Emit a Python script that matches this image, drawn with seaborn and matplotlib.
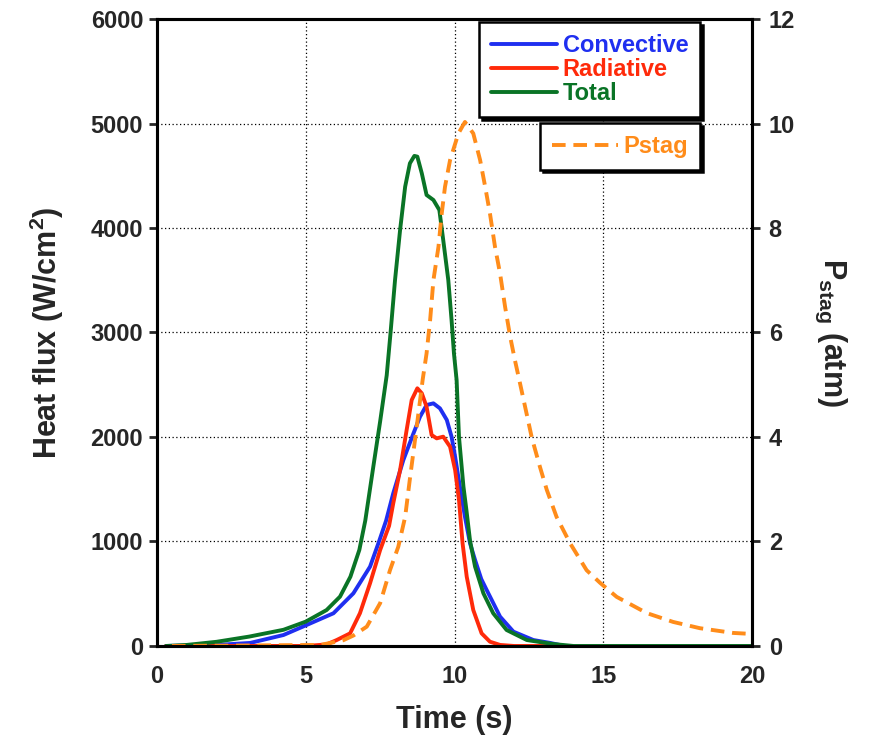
import numpy as np
import pandas as pd
import matplotlib
matplotlib.use("Agg")
import matplotlib.pyplot as plt
import seaborn as sns
from matplotlib.lines import Line2D

# =========================
# DATA
# =========================
t_conv = [0.3, 2.0, 3.13, 4.25, 5.03, 5.93, 6.6, 7.16, 7.45, 7.7, 7.94, 8.28, 8.62, 8.84,
          9.06, 9.29, 9.51, 9.74, 9.9, 10.02, 10.18, 10.35, 10.52, 10.69, 10.9, 11.08,
          11.25, 11.53, 11.98, 12.65, 13.2, 13.7]
q_conv = [0, 10, 29, 105, 201, 313, 504, 759, 990, 1200, 1461, 1780, 2035, 2194,
          2306, 2322, 2274, 2163, 2003, 1811, 1524, 1237, 983, 823, 640, 536,
          440, 281, 137, 57, 30, 0]

t_rad = [0.3, 5.0, 5.7, 6.04, 6.49, 6.82, 7.16, 7.5, 7.8, 7.94, 8.17, 8.39, 8.56, 8.75,
         8.9, 9.06, 9.23, 9.4, 9.62, 9.85, 10.02, 10.15, 10.27, 10.41, 10.63, 10.91,
         11.19, 11.53, 12.0, 13.5]
q_rad = [0, 0, 15, 57, 121, 313, 600, 919, 1150, 1365, 1684, 2067, 2354, 2466,
         2418, 2290, 2019, 1987, 2003, 1907, 1684, 1397, 983, 663, 344, 121,
         41, 10, 0, 0]

t_tot = [0.3, 1.0, 2.0, 3.1, 4.25, 5.0, 5.7, 6.15, 6.5, 6.8, 7.0, 7.27, 7.5, 7.72, 7.85,
         8.0, 8.17, 8.34, 8.5, 8.65, 8.75, 8.9, 9.06, 9.29, 9.49, 9.62, 9.79, 9.9, 9.98,
         10.07, 10.15, 10.3, 10.4, 10.52, 10.69, 10.97, 11.3, 11.75, 12.43, 13.3, 14.0, 20.0]
q_tot = [0, 10, 40, 90, 155, 233, 344, 472, 663, 919, 1200, 1716, 2150, 2590, 3000,
         3502, 3981, 4395, 4619, 4690, 4683, 4523, 4316, 4268, 4172, 3885, 3502, 3120, 2801,
         2545, 2000, 1524, 1300, 1010, 759, 504, 313, 153, 57, 19, 0, 0]

t_p = [0.5, 5.5, 6.26, 6.6, 7.05, 7.5, 7.83, 8.11, 8.34, 8.5, 8.73, 8.93, 9.06, 9.18,
       9.29, 9.46, 9.57, 9.68, 9.85, 10.13, 10.35, 10.63, 10.86, 11.03, 11.19, 11.36,
       11.53, 11.7, 11.87, 12.03, 12.2, 12.6, 12.87, 13.1, 13.43, 13.88, 14.44, 14.89,
       15.45, 16.46, 17.35, 18.25, 19.36, 20.0]
p_stag = [0, 0.02, 0.11, 0.2, 0.37, 0.82, 1.45, 1.9, 2.47, 3.2, 4.2, 5.1, 5.6, 6.24,
          7.0, 7.64, 8.28, 8.79, 9.3, 9.81, 10.03, 9.81, 9.3, 8.79, 8.28, 7.64,
          7.13, 6.49, 5.92, 5.47, 5.03, 3.98, 3.43, 2.99, 2.47, 1.97, 1.45, 1.21,
          0.94, 0.63, 0.46, 0.34, 0.25, 0.23]

series_names = ["Convective", "Radiative", "Total"]
colors = {"Convective": "#1f2ff0", "Radiative": "#ff2a0a", "Total": "#0a7426"}
p_color = "#ff8c1a"

flux = pd.concat([
    pd.DataFrame({"time": t_conv, "flux": q_conv, "series": "Convective"}),
    pd.DataFrame({"time": t_rad, "flux": q_rad, "series": "Radiative"}),
    pd.DataFrame({"time": t_tot, "flux": q_tot, "series": "Total"}),
])
pres = pd.DataFrame({"time": t_p, "p": p_stag})

# =========================
# STYLE
# =========================
sns.set_style("white")
plt.rcParams["font.family"] = ["Liberation Sans", "DejaVu Sans"]
plt.rcParams["font.weight"] = "bold"
plt.rcParams["axes.labelweight"] = "bold"
plt.rcParams["mathtext.fontset"] = "custom"
plt.rcParams["mathtext.rm"] = "Liberation Sans:bold"
plt.rcParams["mathtext.it"] = "Liberation Sans:bold"
plt.rcParams["mathtext.bf"] = "Liberation Sans:bold"

fig = plt.figure(figsize=(8.71, 7.37), dpi=100)
ax = fig.add_axes([0.1803, 0.1235, 0.6831, 0.8507])

sns.lineplot(data=flux, x="time", y="flux", hue="series", hue_order=series_names,
             palette=colors, linewidth=2.8, estimator=None, legend=False, ax=ax)

ax.set_xlim(0, 20)
ax.set_ylim(0, 6000)
ax.set_xticks([0, 5, 10, 15, 20])
ax.set_yticks(range(0, 6001, 1000))
ax.grid(True, color="black", linestyle=(0, (1, 2)), linewidth=0.9)
ax.tick_params(axis="both", direction="out", length=6, width=2, labelsize=17, pad=4)
ax.tick_params(axis="x", pad=8)
ax.set_xlabel("Time (s)", fontsize=22, labelpad=12)
ax.set_ylabel("Heat flux (W/cm$^2$)", fontsize=22, labelpad=18)

ax2 = ax.twinx()
sns.lineplot(data=pres, x="time", y="p", color=p_color, linewidth=2.8,
             estimator=None, ax=ax2)
ax2.lines[0].set_dashes((3.5, 2))
ax2.set_ylim(0, 12)
ax2.set_yticks(range(0, 13, 2))
ax2.tick_params(axis="y", direction="out", length=6, width=2, labelsize=17, pad=6)
ax2.set_ylabel("P$_{\\mathrm{stag}}$ (atm)", fontsize=22, rotation=270,
               va="bottom", labelpad=13)
ax2.grid(False)

for a in (ax, ax2):
    for s in a.spines.values():
        s.set_linewidth(2.2)
        s.set_color("black")

# =========================
# LEGENDS
# =========================
h1 = [Line2D([], [], color=colors[n], linewidth=2.8) for n in series_names]
leg1 = ax2.legend(h1, series_names, loc="upper right", bbox_to_anchor=(0.9126, 0.995),
                  prop={"weight": "bold", "size": 17}, labelcolor="linecolor",
                  frameon=True, fancybox=False, edgecolor="black", framealpha=1,
                  shadow={"color": "black", "alpha": 1},
                  handlelength=2.8, handletextpad=0.25, labelspacing=0.05,
                  borderpad=0.5, borderaxespad=0)
leg1.get_frame().set_linewidth(1.8)
ax2.add_artist(leg1)

h2 = [Line2D([], [], color=p_color, linewidth=2.8, dashes=(3.5, 2))]
leg2 = ax2.legend(h2, ["Pstag"], loc="upper right", bbox_to_anchor=(0.9126, 0.834),
                  prop={"weight": "bold", "size": 17}, labelcolor="linecolor",
                  frameon=True, fancybox=False, edgecolor="black", framealpha=1,
                  shadow={"color": "black", "alpha": 1},
                  handlelength=2.8, handletextpad=0.25,
                  borderpad=0.5, borderaxespad=0)
leg2.get_frame().set_linewidth(1.8)

fig.savefig("out.png", dpi=100)
